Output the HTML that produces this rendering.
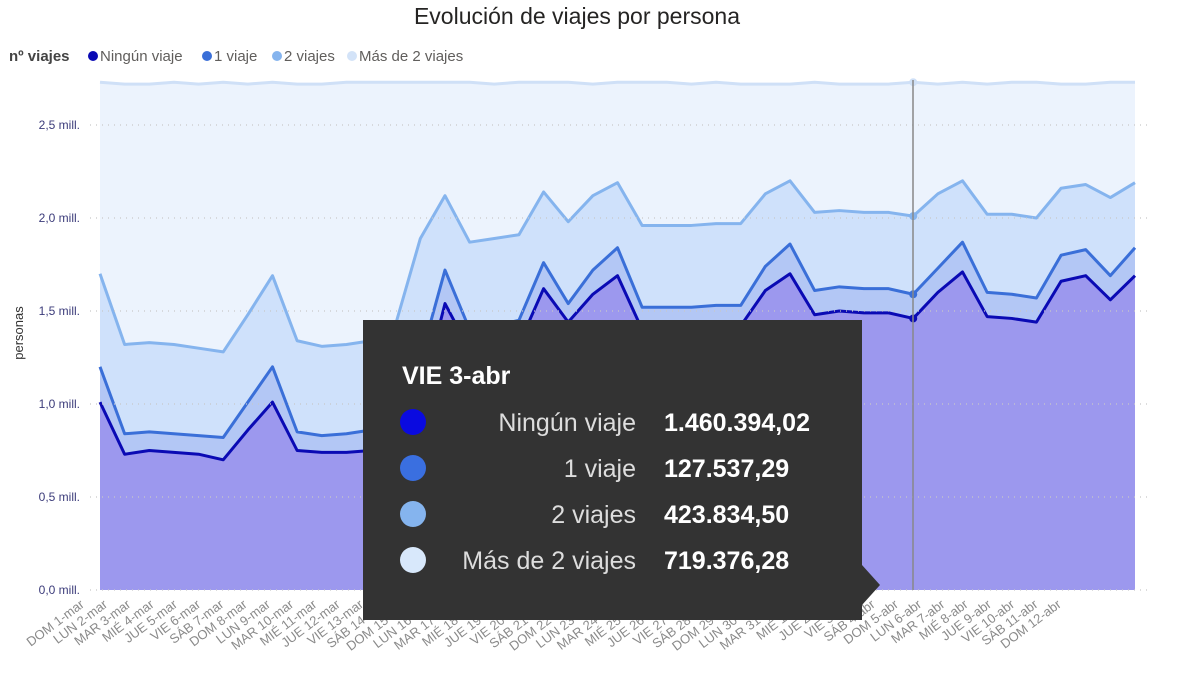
<!DOCTYPE html>
<html><head><meta charset="utf-8">
<style>
body{margin:0;background:#fff;font-family:"Liberation Sans",sans-serif;}
svg{display:block}
</style></head>
<body>
<svg id="chart" width="1200" height="691" viewBox="0 0 1200 691" xmlns="http://www.w3.org/2000/svg" font-family="Liberation Sans, sans-serif">
<text x="577" y="24" text-anchor="middle" font-size="23" fill="#252423">Evolución de viajes por persona</text>
<g font-size="15">
<text x="9" y="61" font-weight="bold" fill="#444">nº viajes</text>
<g><circle cx="93" cy="56" r="5" fill="#0a0ab4"/><text x="100" y="61" fill="#605e5c">Ningún viaje</text></g>
<g><circle cx="207" cy="56" r="5" fill="#3a6fd8"/><text x="214" y="61" fill="#605e5c">1 viaje</text></g>
<g><circle cx="277" cy="56" r="5" fill="#85b4ee"/><text x="284" y="61" fill="#605e5c">2 viajes</text></g>
<g><circle cx="352" cy="56" r="5" fill="#d3e3f8"/><text x="359" y="61" fill="#605e5c">Más de 2 viajes</text></g>
</g>
<text transform="translate(23,333) rotate(-90)" text-anchor="middle" font-size="13" fill="#333">personas</text>
<g id="yaxis"></g>
<g id="areas"></g>
<g id="grid"></g>
<g id="xaxis"></g>
<line x1="913" y1="80" x2="913" y2="590" stroke="#888" stroke-width="1.5"/>
<g id="tooltip">
<rect x="363" y="320" width="499" height="300" fill="#333"/>
<polygon points="862,565 880,585 862,605" fill="#333"/>
<text x="402" y="384" font-size="25" font-weight="bold" fill="#fff">VIE 3-abr</text>
</g>
</svg>
<script>
const days = ["DOM 1-mar","LUN 2-mar","MAR 3-mar","MIÉ 4-mar","JUE 5-mar","VIE 6-mar","SÁB 7-mar","DOM 8-mar","LUN 9-mar","MAR 10-mar","MIÉ 11-mar","JUE 12-mar","VIE 13-mar","SÁB 14-mar","DOM 15-mar","LUN 16-mar","MAR 17-mar","MIÉ 18-mar","JUE 19-mar","VIE 20-mar","SÁB 21-mar","DOM 22-mar","LUN 23-mar","MAR 24-mar","MIÉ 25-mar","JUE 26-mar","VIE 27-mar","SÁB 28-mar","DOM 29-mar","LUN 30-mar","MAR 31-mar","MIÉ 1-abr","JUE 2-abr","VIE 3-abr","SÁB 4-abr","DOM 5-abr","LUN 6-abr","MAR 7-abr","MIÉ 8-abr","JUE 9-abr","VIE 10-abr","SÁB 11-abr","DOM 12-abr"];
const ningun = [1.01,0.73,0.75,0.74,0.73,0.70,0.86,1.01,0.75,0.74,0.74,0.75,0.78,1.02,1.54,1.29,1.30,1.32,1.62,1.44,1.59,1.69,1.40,1.41,1.41,1.42,1.42,1.61,1.70,1.48,1.50,1.49,1.49,1.46,1.60,1.71,1.47,1.46,1.44,1.66,1.69,1.56,1.69];
const uno = [0.19,0.11,0.10,0.10,0.10,0.12,0.15,0.19,0.10,0.09,0.10,0.11,0.11,0.22,0.18,0.11,0.12,0.13,0.14,0.10,0.13,0.15,0.12,0.11,0.11,0.11,0.11,0.13,0.16,0.13,0.13,0.13,0.13,0.13,0.13,0.16,0.13,0.13,0.13,0.14,0.14,0.13,0.15];
const dos = [0.50,0.48,0.48,0.48,0.47,0.46,0.47,0.49,0.49,0.48,0.48,0.48,0.54,0.65,0.40,0.47,0.47,0.46,0.38,0.44,0.40,0.35,0.44,0.44,0.44,0.44,0.44,0.39,0.34,0.42,0.41,0.41,0.41,0.42,0.40,0.33,0.42,0.43,0.43,0.36,0.35,0.42,0.35];
const mas = [1.03,1.40,1.39,1.41,1.42,1.45,1.24,1.04,1.38,1.41,1.41,1.39,1.30,0.84,0.61,0.86,0.83,0.82,0.59,0.75,0.60,0.54,0.77,0.77,0.76,0.76,0.75,0.59,0.52,0.70,0.68,0.69,0.69,0.72,0.59,0.53,0.70,0.71,0.73,0.56,0.54,0.62,0.54];
const yTicks = [0,0.5,1.0,1.5,2.0,2.5];
const yTickLabels = ["0,0 mill.","0,5 mill.","1,0 mill.","1,5 mill.","2,0 mill.","2,5 mill."];
const tipLabels = ["Ningún viaje","1 viaje","2 viajes","Más de 2 viajes"];
const tipValues = ["1.460.394,02","127.537,29","423.834,50","719.376,28"];
const hoverIndex = 33;

const NS="http://www.w3.org/2000/svg";
const X0=100,X1=1135,Y0=590,PXM=186;
function xs(i){return X0+i*(X1-X0)/(days.length-1);}
function ys(v){return Y0-v*PXM;}
function mk(tag,attrs,parent){const e=document.createElementNS(NS,tag);for(const k in attrs)e.setAttribute(k,attrs[k]);parent.appendChild(e);return e;}
const series=[ningun,uno,dos,mas];
const fills=["#9c98ee","#b3c7f5","#cfe1fb","#ecf3fd"];
const strokes=["#0a0ab4","#3a6fd8","#85b4ee","#cfe0f7"];
const names=["area-ningun-viaje","area-1-viaje","area-2-viajes","area-mas-de-2-viajes"];
const cum=[];let base=days.map(()=>0);
series.forEach(s=>{base=base.map((b,i)=>b+s[i]);cum.push(base.slice());});
const areas=document.getElementById('areas');
for(let k=3;k>=0;k--){
  const top=cum[k];
  let d="M"+xs(0)+","+Y0;
  top.forEach((v,i)=>d+=" L"+xs(i)+","+ys(v));
  d+=" L"+xs(days.length-1)+","+Y0+" Z";
  const a=mk('path',{d:d,fill:fills[k]},areas);
  
  
}
for(let k=0;k<4;k++){
  const pts=cum[k].map((v,i)=>xs(i)+","+ys(v)).join(" ");
  const l=mk('polyline',{points:pts,fill:"none",stroke:strokes[k],"stroke-width":3,"stroke-linejoin":"round"},areas);
  
  
  const c=mk('circle',{cx:xs(hoverIndex),cy:ys(cum[k][hoverIndex]),r:4,fill:strokes[k]},areas);
  
  
}
const grid=document.getElementById('grid'),yax=document.getElementById('yaxis');
yTicks.forEach((t,i)=>{
  const g=mk('line',{x1:90,x2:1150,y1:ys(t),y2:ys(t),stroke:"#c8c8c8","stroke-dasharray":"1 5","stroke-width":1.2},grid);
  
  
  const tx=mk('text',{x:80,y:ys(t)+4,"text-anchor":"end","font-size":12,fill:"#3b3b7a"},yax);
  tx.textContent=yTickLabels[i];
  
  
});
const xax=document.getElementById('xaxis');
days.forEach((d,i)=>{
  const ex=85+i*23.26;
  const t=mk('text',{transform:"translate("+ex+",606) rotate(-37)","text-anchor":"end","font-size":13,fill:"#8a8a8a"},xax);
  t.textContent=d;
  
  
});
const tip=document.getElementById('tooltip');
const tipColors=["#0a0ae0","#3a6fe0","#85b4ee","#d8e8fb"];
tipLabels.forEach((lab,i)=>{
  const y=422+i*46;
  const c=mk('circle',{cx:413,cy:y,r:13,fill:tipColors[i]},tip);
  
  
  const a=mk('text',{x:636,y:y+9,"text-anchor":"end","font-size":25,fill:"#ddd"},tip);
  a.textContent=lab;
  
  
  const b=mk('text',{x:664,y:y+9,"font-size":25,"font-weight":"bold",fill:"#fff"},tip);
  b.textContent=tipValues[i];
  
  
});
</script>
</body></html>
